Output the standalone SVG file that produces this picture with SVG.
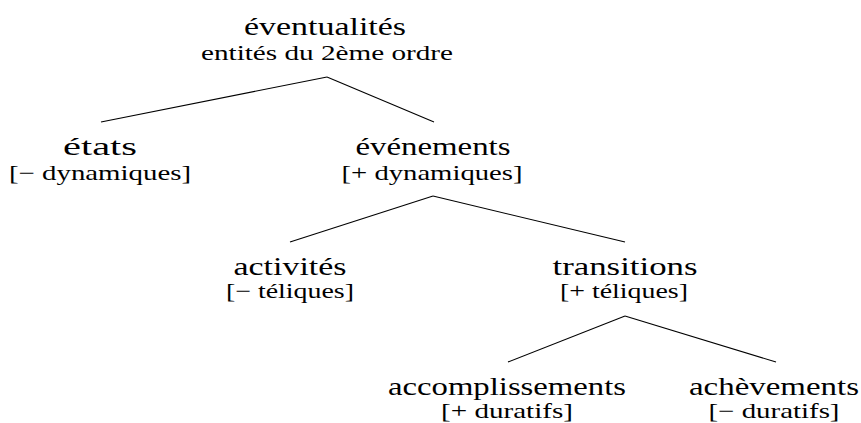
<svg xmlns="http://www.w3.org/2000/svg" width="861" height="423" viewBox="0 0 861 423">
  <rect width="861" height="423" fill="#fff"/>
  <g id="connectors" stroke="#000" stroke-width="1.1" fill="none">
    <line x1="327" y1="77" x2="101" y2="122"/>
    <line x1="327" y1="77" x2="434" y2="122"/>
    <line x1="433" y1="196" x2="290" y2="242"/>
    <line x1="433" y1="196" x2="625" y2="242"/>
    <line x1="625" y1="316" x2="508" y2="362"/>
    <line x1="625" y1="316" x2="776" y2="362"/>
  </g>
  <g id="eventualites">
    <text x="244" y="35" font-family="Liberation Serif" font-size="25" textLength="162" lengthAdjust="spacingAndGlyphs">éventualités</text>
    <text x="201" y="60" font-family="Liberation Serif" font-size="21" textLength="252" lengthAdjust="spacingAndGlyphs">entités du 2ème ordre</text>
  </g>
  <g id="etats">
    <text x="63" y="155" font-family="Liberation Serif" font-size="25" textLength="74" lengthAdjust="spacingAndGlyphs">états</text>
    <text x="9" y="180" font-family="Liberation Serif" font-size="21" textLength="182" lengthAdjust="spacingAndGlyphs">[&#8722; dynamiques]</text>
  </g>
  <g id="evenements">
    <text x="355.5" y="155" font-family="Liberation Serif" font-size="25" textLength="155" lengthAdjust="spacingAndGlyphs">événements</text>
    <text x="341.5" y="180" font-family="Liberation Serif" font-size="21" textLength="181" lengthAdjust="spacingAndGlyphs">[+ dynamiques]</text>
  </g>
  <g id="activites">
    <text x="233.5" y="275" font-family="Liberation Serif" font-size="25" textLength="113" lengthAdjust="spacingAndGlyphs">activités</text>
    <text x="226" y="298" font-family="Liberation Serif" font-size="21" textLength="128" lengthAdjust="spacingAndGlyphs">[&#8722; téliques]</text>
  </g>
  <g id="transitions">
    <text x="552.5" y="275" font-family="Liberation Serif" font-size="25" textLength="145" lengthAdjust="spacingAndGlyphs">transitions</text>
    <text x="560" y="298" font-family="Liberation Serif" font-size="21" textLength="128" lengthAdjust="spacingAndGlyphs">[+ téliques]</text>
  </g>
  <g id="accomplissements">
    <text x="388" y="395" font-family="Liberation Serif" font-size="25" textLength="238" lengthAdjust="spacingAndGlyphs">accomplissements</text>
    <text x="441" y="418" font-family="Liberation Serif" font-size="21" textLength="132" lengthAdjust="spacingAndGlyphs">[+ duratifs]</text>
  </g>
  <g id="achevements">
    <text x="689" y="395" font-family="Liberation Serif" font-size="25" textLength="170" lengthAdjust="spacingAndGlyphs">achèvements</text>
    <text x="708.5" y="418" font-family="Liberation Serif" font-size="21" textLength="131" lengthAdjust="spacingAndGlyphs">[&#8722; duratifs]</text>
  </g>
</svg>
